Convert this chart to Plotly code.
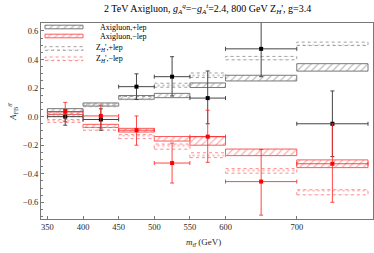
import plotly.graph_objects as go

# bin edges in m_tt (GeV)
edges = [350, 400, 450, 500, 550, 600, 700, 800]

# predicted bands (centre, half-height)
axi_plus = [0.045, 0.085, 0.135, 0.148, 0.22, 0.27, 0.345]
axi_plus_err = [0.011, 0.011, 0.013, 0.015, 0.016, 0.02, 0.026]
axi_minus = [0.025, -0.065, -0.095, -0.155, -0.17, -0.25, -0.33]
axi_minus_err = [0.01, 0.011, 0.013, 0.016, 0.03, 0.023, 0.027]
zp_plus = [0.01, 0.08, 0.13, 0.22, 0.29, 0.41, 0.51]
zp_plus_err = [0.01, 0.01, 0.011, 0.014, 0.016, 0.012, 0.012]
zp_minus = [-0.03, -0.085, -0.14, -0.21, -0.27, -0.38, -0.53]
zp_minus_err = [0.01, 0.01, 0.014, 0.018, 0.017, 0.016, 0.018]

# measured points
black_y = [0.0, -0.02, 0.21, 0.28, 0.13, 0.475, -0.05]
black_up = [0.05, 0.075, 0.09, 0.14, 0.19, 0.195, 0.23]
black_dn = [0.06, 0.075, 0.09, 0.135, 0.18, 0.195, 0.23]
red_y = [0.035, 0.005, -0.095, -0.325, -0.14, -0.455, -0.33]
red_up = [0.065, 0.075, 0.10, 0.14, 0.185, 0.225, 0.28]
red_dn = [0.07, 0.085, 0.105, 0.14, 0.18, 0.235, 0.27]

xticks = [350, 400, 450, 500, 550, 600, 700]
yticks = [-0.6, -0.4, -0.2, 0.0, 0.2, 0.4, 0.6]

legend_labels = ["Axigluon,+lep", "Axigluon,\u2212lep",
                 "Z<sub><i>H</i></sub>',+lep", "Z<sub><i>H</i></sub>',\u2212lep"]

centers = [(a + b) / 2 for a, b in zip(edges[:-1], edges[1:])]
halfw = [(b - a) / 2 for a, b in zip(edges[:-1], edges[1:])]

SERIF = "Liberation Serif, Times New Roman, serif"
W, H = 374, 253
ML, MR, MT, MB = 41, 1, 23, 34
PW, PH = W - ML - MR, H - MT - MB


def px(X):
    return (X - ML) / PW


def py(Y):
    return (H - MB - Y) / PH


def boxes(vals, errs):
    xs, ys = [], []
    for lo, hi, v, e in zip(edges[:-1], edges[1:], vals, errs):
        xs += [lo, hi, hi, lo, lo, None]
        ys += [v - e, v - e, v + e, v + e, v - e, None]
    return xs, ys


fig = go.Figure()

styles = [
    ("rgb(120,120,120)", "solid", "/", 0.25),
    ("rgb(255,90,90)", "solid", "/", 0.25),
    ("rgb(160,160,160)", "dot", ".", 0.2),
    ("rgb(255,140,140)", "dot", ".", 0.2),
]
values = [(axi_plus, axi_plus_err), (axi_minus, axi_minus_err),
          (zp_plus, zp_plus_err), (zp_minus, zp_minus_err)]

for (v, e), (col, dash, pat, sol) in zip(values, styles):
    xs, ys = boxes(v, e)
    fig.add_trace(go.Scatter(
        x=xs, y=ys, mode="lines", fill="toself", showlegend=False,
        line=dict(color=col, width=1, dash=dash),
        fillcolor="rgba(255,255,255,0)",
        fillpattern=dict(shape=pat, fgcolor=col, bgcolor="rgba(255,255,255,0)", size=5, solidity=sol),
        hoverinfo="skip",
    ))

fig.add_trace(go.Scatter(
    x=centers, y=black_y, mode="markers", showlegend=False,
    marker=dict(symbol="square", size=4, color="black"),
    error_y=dict(type="data", symmetric=False, array=black_up, arrayminus=black_dn,
                 color="rgb(70,70,70)", thickness=1, width=2),
    error_x=dict(type="data", array=halfw, color="rgb(70,70,70)", thickness=1, width=2),
))
fig.add_trace(go.Scatter(
    x=centers, y=red_y, mode="markers", showlegend=False,
    marker=dict(symbol="square", size=4, color="red"),
    error_y=dict(type="data", symmetric=False, array=red_up, arrayminus=red_dn,
                 color="rgba(255,40,40,0.85)", thickness=1, width=2),
    error_x=dict(type="data", array=halfw, color="rgba(255,40,40,0.85)", thickness=1, width=2),
))

# compact hand-laid legend (samples on a hidden overlay axis, labels as text)
row_y = [27, 36, 48.5, 58.8]
text_x = [98, 98, 94, 94]
sx0, sx1, sh = 45, 83, 1.8
annotations = []
for lab, ry, tx, (col, dash, pat, sol) in zip(legend_labels, row_y, text_x, styles):
    fig.add_trace(go.Scatter(
        x=[px(sx0), px(sx1), px(sx1), px(sx0), px(sx0)],
        y=[py(ry + sh), py(ry + sh), py(ry - sh), py(ry - sh), py(ry + sh)],
        xaxis="x2", yaxis="y2", mode="lines", fill="toself", showlegend=False,
        line=dict(color=col, width=1, dash=dash),
        fillcolor="rgba(255,255,255,0)",
        fillpattern=dict(shape=pat, fgcolor=col, bgcolor="rgba(255,255,255,0)", size=5, solidity=sol),
        hoverinfo="skip",
    ))
    annotations.append(dict(
        text=lab, x=px(tx), y=py(ry), xref="paper", yref="paper",
        xanchor="left", yanchor="middle", showarrow=False,
        font=dict(family=SERIF, size=8, color="black"),
    ))

annotations.append(dict(
    text="2 TeV Axigluon, <i>g<sub>A</sub><sup>q</sup></i>=\u2212<i>g<sub>A</sub><sup>t</sup></i>=2.4, 800 GeV Z<sub><i>H</i></sub>', g=3.4",
    x=px(207), y=py(9), xref="paper", yref="paper", xanchor="center", yanchor="middle",
    showarrow=False, font=dict(family=SERIF, size=10, color="black"),
))
annotations.append(dict(
    text="<i>m<sub>tt\u0304</sub></i> (GeV)",
    x=px(203), y=py(243), xref="paper", yref="paper", xanchor="center", yanchor="middle",
    showarrow=False, font=dict(family=SERIF, size=9, color="rgb(40,40,40)"),
))
annotations.append(dict(
    text="<i>A</i><sub>FB</sub><sup><i>tt\u0304</i></sup>",
    x=px(12), y=py(112), xref="paper", yref="paper", xanchor="center", yanchor="middle",
    textangle=-90, showarrow=False, font=dict(family=SERIF, size=9, color="rgb(40,40,40)"),
))

fig.update_layout(
    width=W, height=H,
    margin=dict(l=ML, r=MR, t=MT, b=MB, autoexpand=False),
    paper_bgcolor="white", plot_bgcolor="white",
    font=dict(family=SERIF, size=9, color="rgb(40,40,40)"),
    showlegend=False,
    annotations=annotations,
    xaxis2=dict(overlaying="x", range=[0, 1], visible=False, fixedrange=True),
    yaxis2=dict(overlaying="y", range=[0, 1], visible=False, fixedrange=True),
    xaxis=dict(
        range=[341, 807], tickvals=xticks, ticks="inside", ticklen=3,
        tickcolor="rgb(120,120,120)", showline=True, linecolor="rgb(120,120,120)",
        linewidth=1, mirror=True, showgrid=False, zeroline=False, automargin=False,
        tickfont=dict(family=SERIF, size=8.5, color="rgb(40,40,40)"),
    ),
    yaxis=dict(
        range=[-0.717, 0.656], tickvals=yticks,
        tickformat=".1f", ticks="inside", ticklen=3, tickcolor="rgb(120,120,120)",
        minor=dict(dtick=0.05, ticks="inside", ticklen=1.5, tickcolor="rgb(120,120,120)"),
        showline=True, linecolor="rgb(120,120,120)", linewidth=1, mirror=True,
        showgrid=False, zeroline=False, automargin=False,
        tickfont=dict(family=SERIF, size=8.5, color="rgb(40,40,40)"),
    ),
)

fig.write_html(
    "out.html",
    config={"displayModeBar": False},
    post_script="document.body.style.margin='0';document.body.style.padding='0';",
)
